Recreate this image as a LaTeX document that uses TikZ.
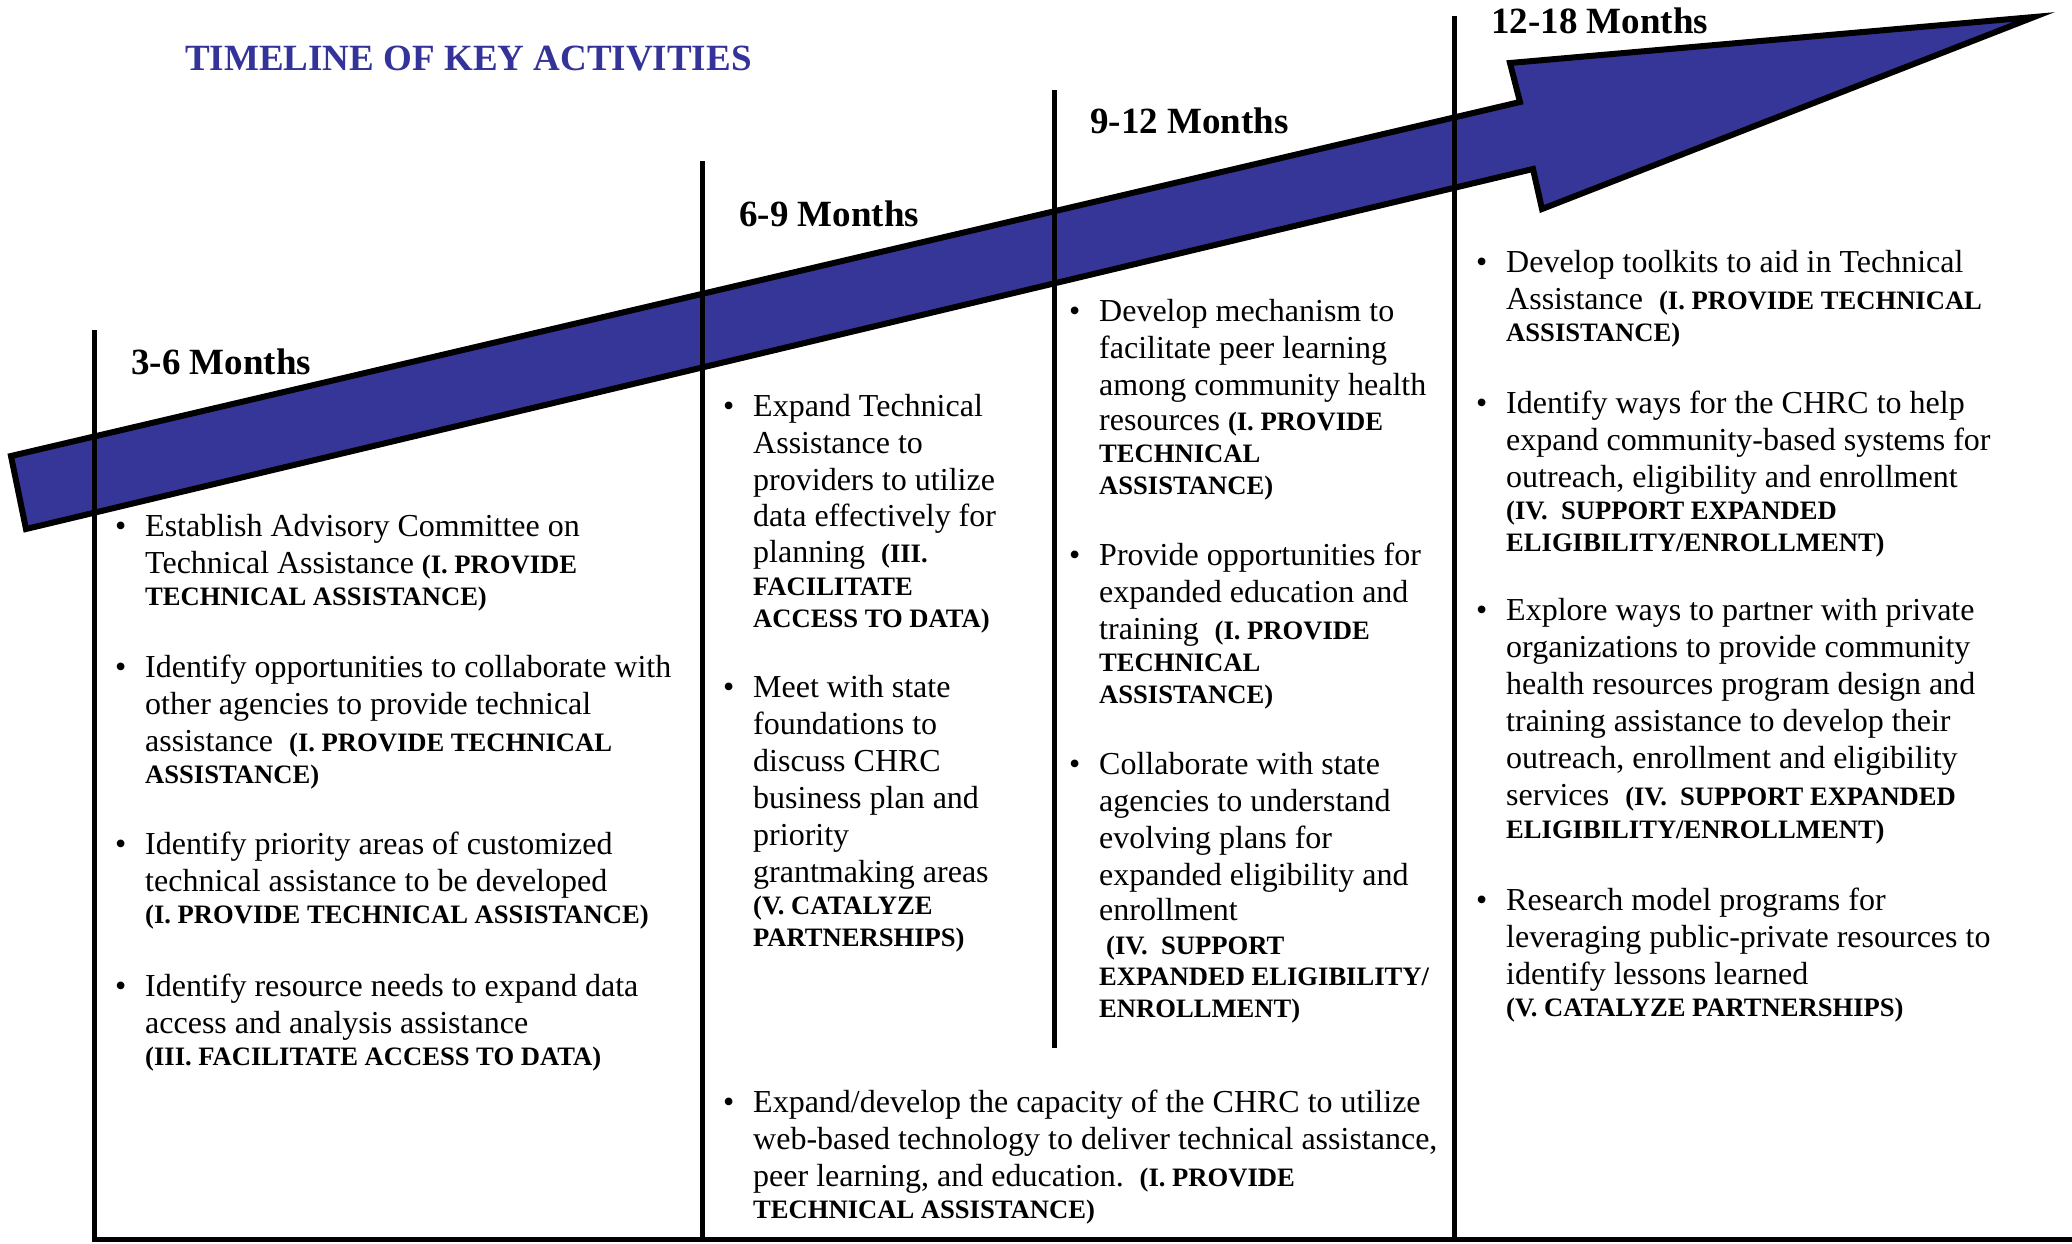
\documentclass[tikz,border=0pt]{standalone}
\usepackage{fontspec}
\setmainfont{Liberation Serif}
\definecolor{arrowblue}{RGB}{54,54,152}
\definecolor{titleblue}{RGB}{51,51,153}
\newcounter{tlc}
\newcommand\B[1]{{\fontsize{26.6}{30}\selectfont\bfseries #1}}
\newcommand\tline[3]{\stepcounter{tlc}\node[txt] (t\arabic{tlc}) at (#1,#2) {#3};}
\newcommand\bul[2]{\stepcounter{tlc}\node[txt] (b\arabic{tlc}) at (#1-5,#2) {\textbullet};}
\frenchspacing
\begin{document}
\begin{tikzpicture}[x=1pt,y=-1pt,
  txt/.style={anchor=base west,inner sep=0pt,font=\fontsize{32}{37}\selectfont},
  head/.style={anchor=base west,inner sep=0pt,font=\fontsize{37}{42}\selectfont\bfseries},
  arrowshape/.style={fill=arrowblue,draw=black,line width=6pt,line join=miter,miter limit=20},
  rule/.style={draw=black,line width=5pt}]
\useasboundingbox (0,0) rectangle (2072,1243);
% big arrow
\draw[arrowshape] (11,456) -- (1520,102) -- (1510,63) -- (2034,17) -- (1542,209) -- (1533,169) -- (26,529) -- cycle;
% rules
\draw[rule] (94,330) -- (94,1239) -- (2072,1239);
\draw[rule] (702,161) -- (702,1239);
\draw[rule] (1054,90) -- (1054,1048);
\draw[rule] (1454,16) -- (1454,1239);
% title and headings
\node[head,text=titleblue] (title) at (185,70) {TIMELINE OF KEY ACTIVITIES};
\node[head] (h1) at (131,374) {3-6 Months};
\node[head] (h2) at (739,226) {6-9 Months};
\node[head] (h3) at (1090,133) {9-12 Months};
\node[head] (h4) at (1491,33) {12-18 Months};
% column 1
\bul{120}{536}
\tline{145}{536}{Establish Advisory Committee on}
\tline{145}{573}{Technical Assistance \B{(I. PROVIDE}}
\tline{145}{605}{\B{TECHNICAL ASSISTANCE)}}
\bul{120}{677}
\tline{145}{677}{Identify opportunities to collaborate with}
\tline{145}{714}{other agencies to provide technical}
\tline{145}{751}{assistance\ \ \B{(I. PROVIDE TECHNICAL}}
\tline{145}{783}{\B{ASSISTANCE)}}
\bul{120}{854}
\tline{145}{854}{Identify priority areas of customized}
\tline{145}{891}{technical assistance to be developed}
\tline{145}{923}{\B{(I. PROVIDE TECHNICAL ASSISTANCE)}}
\bul{120}{996}
\tline{145}{996}{Identify resource needs to expand data}
\tline{145}{1033}{access and analysis assistance}
\tline{145}{1065}{\B{(III. FACILITATE ACCESS TO DATA)}}
% column 2
\bul{728}{416}
\tline{753}{416}{Expand Technical}
\tline{753}{453}{Assistance to}
\tline{753}{490}{providers to utilize}
\tline{753}{526}{data effectively for}
\tline{753}{562}{planning\ \ \B{(III.}}
\tline{753}{595}{\B{FACILITATE}}
\tline{753}{627}{\B{ACCESS TO DATA)}}
\bul{728}{697}
\tline{753}{697}{Meet with state}
\tline{753}{734}{foundations to}
\tline{753}{771}{discuss CHRC}
\tline{753}{808}{business plan and}
\tline{753}{845}{priority}
\tline{753}{882}{grantmaking areas}
\tline{753}{914}{\B{(V. CATALYZE}}
\tline{753}{946}{\B{PARTNERSHIPS)}}
% bottom item
\bul{728}{1112}
\tline{753}{1112}{Expand/develop the capacity of the CHRC to utilize}
\tline{753}{1149}{web-based technology to deliver technical assistance,}
\tline{753}{1186}{peer learning, and education.\ \ \B{(I. PROVIDE}}
\tline{753}{1218}{\B{TECHNICAL ASSISTANCE)}}
% column 3
\bul{1074}{321}
\tline{1099}{321}{Develop mechanism to}
\tline{1099}{358}{facilitate peer learning}
\tline{1099}{395}{among community health}
\tline{1099}{430}{resources \B{(I. PROVIDE}}
\tline{1099}{462}{\B{TECHNICAL}}
\tline{1099}{494}{\B{ASSISTANCE)}}
\bul{1074}{565}
\tline{1099}{565}{Provide opportunities for}
\tline{1099}{602}{expanded education and}
\tline{1099}{639}{training\ \ \B{(I. PROVIDE}}
\tline{1099}{671}{\B{TECHNICAL}}
\tline{1099}{703}{\B{ASSISTANCE)}}
\bul{1074}{774}
\tline{1099}{774}{Collaborate with state}
\tline{1099}{811}{agencies to understand}
\tline{1099}{848}{evolving plans for}
\tline{1099}{885}{expanded eligibility and}
\tline{1099}{920}{enrollment}
\tline{1106}{954}{\B{(IV.\ \ SUPPORT}}
\tline{1099}{985}{\B{EXPANDED ELIGIBILITY/}}
\tline{1099}{1017}{\B{ENROLLMENT)}}
% column 4
\bul{1481}{272}
\tline{1506}{272}{Develop toolkits to aid in Technical}
\tline{1506}{309}{Assistance\ \ \B{(I. PROVIDE TECHNICAL}}
\tline{1506}{341}{\B{ASSISTANCE)}}
\bul{1481}{413}
\tline{1506}{413}{Identify ways for the CHRC to help}
\tline{1506}{450}{expand community-based systems for}
\tline{1506}{487}{outreach, eligibility and enrollment}
\tline{1506}{519}{\B{(IV.\ \ SUPPORT EXPANDED}}
\tline{1506}{551}{\B{ELIGIBILITY/ENROLLMENT)}}
\bul{1481}{620}
\tline{1506}{620}{Explore ways to partner with private}
\tline{1506}{657}{organizations to provide community}
\tline{1506}{694}{health resources program design and}
\tline{1506}{731}{training assistance to develop their}
\tline{1506}{768}{outreach, enrollment and eligibility}
\tline{1506}{805}{services\ \ \B{(IV.\ \ SUPPORT EXPANDED}}
\tline{1506}{838}{\B{ELIGIBILITY/ENROLLMENT)}}
\bul{1481}{910}
\tline{1506}{910}{Research model programs for}
\tline{1506}{947}{leveraging public-private resources to}
\tline{1506}{984}{identify lessons learned}
\tline{1506}{1016}{\B{(V. CATALYZE PARTNERSHIPS)}}
\end{tikzpicture}
\end{document}
